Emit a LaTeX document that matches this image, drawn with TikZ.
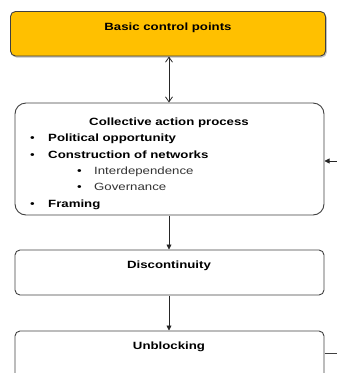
\documentclass[tikz,border=0pt]{standalone}
\usepackage{fontspec}
\setmainfont{Liberation Sans}[FakeStretch=1.26]
\usetikzlibrary{arrows.meta}
\definecolor{boxorange}{HTML}{FFC000}
\definecolor{edgegray}{HTML}{404040}
\begin{document}
\begin{tikzpicture}[x=1pt,y=-1pt,
  boxstyle/.style={draw=edgegray,line width=0.9pt,rounded corners=5pt},
  bigbox/.style={draw=edgegray,line width=0.9pt,rounded corners=11pt},
  conn/.style={draw=black!85,line width=0.8pt},
  lbl/.style={font=\fontsize{10.5}{12}\selectfont\bfseries,inner sep=0pt},
  itm/.style={font=\fontsize{10.5}{12}\selectfont,inner sep=0pt,anchor=base west},
  itmb/.style={itm,font=\fontsize{10.5}{12}\selectfont\bfseries}]
\useasboundingbox (0,0) rectangle (337,373);
\begin{scope}
\clip (0,0) rectangle (337,373);
% top box with faint shadow
\path[fill=black!25,rounded corners=5pt] (11.5,12.8) rectangle (326.8,57.5);
\path[boxstyle,fill=boxorange] (10.5,11.5) rectangle (325.5,56) ;
\node[lbl] (basic) at (168,27.5) {Basic control points};
\coordinate (basicB) at (169,56.5);
% collective box
\path[bigbox,fill=white] (15,103) rectangle (324,215);
\coordinate (collT) at (169,102.5);
\coordinate (collB) at (169,215.5);
\coordinate (collR) at (324.5,161);
\node[lbl] (coll) at (169,122.5) {Collective action process};
\node[itm] (b1) at (30,141.5) {\textbullet};
\node[itmb] (t1) at (48,141.5) {Political opportunity};
\node[itm] (b2) at (30,158) {\textbullet};
\node[itmb] (t2) at (48,158) {Construction of networks};
\node[itm] (b3) at (77,174.5) {\textbullet};
\node[itm,text=black!80] (t3) at (94,174.5) {Interdependence};
\node[itm] (b4) at (77,190.5) {\textbullet};
\node[itm,text=black!80] (t4) at (94,190.5) {Governance};
\node[itm] (b5) at (30,207) {\textbullet};
\node[itmb] (t5) at (48,207) {Framing};
% discontinuity
\path[boxstyle] (15,250) rectangle (324,295);
\coordinate (discT) at (169,249.5);
\coordinate (discB) at (169,295.5);
\node[lbl] (disc) at (169,266) {Discontinuity};
% unblocking
\path[boxstyle] (15,331) rectangle (324,390);
\coordinate (unbT) at (169,330.5);
\coordinate (unbR) at (324.5,353);
\node[lbl] (unb) at (169,347) {Unblocking};
% right-side free ends
\coordinate (rightA) at (337,161);
\coordinate (rightB) at (337,353);
% connectors
\draw[conn,{Straight Barb[length=5pt,width=7pt]}-{Straight Barb[length=5pt,width=7pt]}] (basicB) -- (collT);
\draw[conn,-{Triangle[length=5pt,width=5pt]}] (collB) -- (discT);
\draw[conn,-{Triangle[length=5pt,width=5pt]}] (discB) -- (unbT);
\draw[conn,-{Triangle[length=5pt,width=5pt]}] (rightA) -- (collR);
\draw[conn,draw=edgegray] (unbR) -- (rightB);
\end{scope}
\end{tikzpicture}
\end{document}
